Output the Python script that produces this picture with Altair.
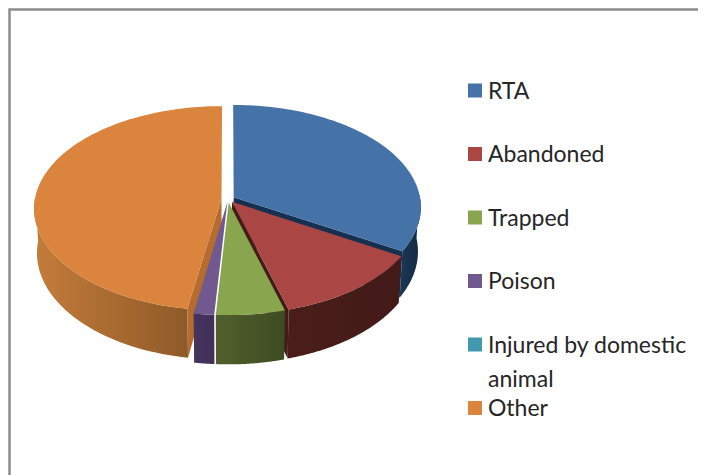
import math
import altair as alt
import pandas as pd

CATEGORIES = ["RTA", "Abandoned", "Trapped", "Poison", "Injured by domestic\nanimal", "Other"]
VALUES = [33.5, 12.1, 5.4, 1.6, 0.0, 47.4]
TOP_COLORS = ["#4572a7", "#aa4643", "#89a54e", "#71588f", "#4198af", "#db843d"]
CUT_COLORS = ["#17304f", "#451b18", "#3e4d22", "#44325a", "#20505c", "#b56c2e"]
WALL_STOPS = [
    ["#1b3757", "#14293f"],
    ["#4a1d1a", "#421a17"],
    ["#525f2d", "#3d4b21"],
    ["#46345d", "#41305a"],
    ["#20505c", "#20505c"],
    ["#c47c3a", "#8f5a28"],
]
PAINT_ORDER = [0, 1, 5, 3, 2]
CUT_SIDE = {0: "end", 1: "end", 5: "start"}

# page-pixel frame of the projected pie
CX, CY, RX, RY, P, EXPLODE = 228.0, 199.0, 186.6, 101.3, 0.094, 0.035
DEPTH, SHRINK_X, SCALE_Y = 44.0, 0.985, 1.045
MARGIN = 8
W, H = 690, 467


def pos_scale():
    return alt.Scale(domain=[MARGIN, MARGIN + W], range=[0, W], nice=False, zero=False)


def pos_scale_y():
    return alt.Scale(domain=[MARGIN, MARGIN + H], range=[0, H], nice=False, zero=False)


def project(u, f, low=False):
    w = 1 - P * f
    x, y = RX * u / w, RY * f / w
    if low:
        return CX + x * SHRINK_X, CY + DEPTH + y * SCALE_Y
    return CX + x, CY + y


def point(theta, off, r=1.0):
    return off[0] + r * math.sin(theta), off[1] - r * math.cos(theta)


def polygon(points):
    return pd.DataFrame(
        [{"px": x, "py": y, "k": i} for i, (x, y) in enumerate(points)]
    )


def layer_for(points, fill):
    return (
        alt.Chart(polygon(points))
        .mark_line(fill=fill, stroke=None, strokeWidth=0, interpolate="linear-closed")
        .encode(
            x=alt.X("px:Q", axis=None, scale=pos_scale()),
            y=alt.Y("py:Q", axis=None, scale=pos_scale_y()),
            order="k:Q",
        )
    )


layers = []

total = sum(VALUES)
start = 0.0
spans = []
for v in VALUES:
    a = start / total * 2 * math.pi
    start += v
    spans.append((a, start / total * 2 * math.pi))

for i in PAINT_ORDER:
    a, b = spans[i]
    mid = (a + b) / 2
    off = (EXPLODE * math.sin(mid), -EXPLODE * math.cos(mid))
    n = 90
    thetas = [a + (b - a) * k / n for k in range(n + 1)]
    # the outer wall: only the part facing the viewer
    front = [t for t in thetas if point(t, off)[1] > -0.05]
    if len(front) > 1:
        wall = [project(*point(t, off)) for t in front] + [
            project(*point(t, off), low=True) for t in reversed(front)
        ]
        s0, s1 = WALL_STOPS[i]
        grad = {
            "gradient": "linear", "x1": 0, "y1": 0, "x2": 1, "y2": 0,
            "stops": [{"offset": 0, "color": s0}, {"offset": 1, "color": s1}],
        }
        layers.append(layer_for(wall, grad))
    if i in CUT_SIDE:
        edge = b if CUT_SIDE[i] == "end" else a
        cut = [
            project(*off),
            project(*point(edge, off)),
            project(*point(edge, off), low=True),
            project(*off, low=True),
        ]
        layers.append(layer_for(cut, CUT_COLORS[i]))
    top = [project(*off)] + [project(*point(t, off)) for t in thetas]
    layers.append(layer_for(top, TOP_COLORS[i]))

FRAME_X = [9.5, 9.5, 698.0]
FRAME_Y = [475.0, 9.5, 9.5]
frame = (
    alt.Chart(pd.DataFrame({"px": FRAME_X, "py": FRAME_Y, "k": range(3)}))
    .mark_line(color="#8c8c8c", strokeWidth=2.5)
    .encode(
        x=alt.X("px:Q", axis=None, scale=pos_scale()),
        y=alt.Y("py:Q", axis=None, scale=pos_scale_y()),
        order="k:Q",
    )
)

LEGEND_TOP, LEGEND_STEP = 90.5, 63.5
legend_df = pd.DataFrame({
    "cat": CATEGORIES,
    "color": TOP_COLORS,
    "py": [LEGEND_TOP + i * LEGEND_STEP for i in range(len(CATEGORIES))],
})
yleg = alt.Y("py:Q", axis=None, scale=pos_scale_y())
swatches = (
    alt.Chart(legend_df)
    .mark_square(size=196, opacity=1, filled=True)
    .encode(x=alt.value(475 - MARGIN), y=yleg, color=alt.Color("color:N", scale=None))
)
labels = (
    alt.Chart(legend_df)
    .mark_text(align="left", baseline="alphabetic", dy=8, font="Lato", fontSize=23, color="#262626",
               lineBreak="\n", lineHeight=34)
    .encode(x=alt.value(488 - MARGIN), y=yleg, text="cat:N")
)

chart = (
    alt.layer(frame, *layers, swatches, labels)
    .properties(
        width=W, height=H, padding=0,
        autosize=alt.AutoSizeParams(type="none", contains="content"),
        background="white",
    )
    .configure_view(stroke=None)
)
chart.save("out.html", embed_options={"renderer": "svg", "actions": False})
